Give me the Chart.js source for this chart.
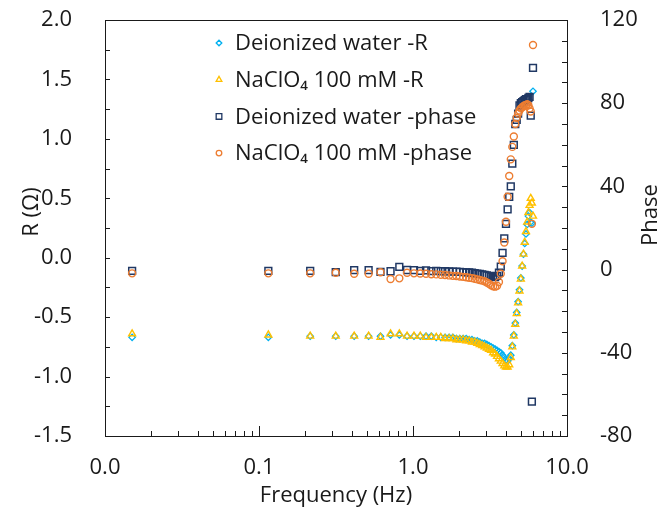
<!DOCTYPE html>
<html>
<head>
<meta charset="utf-8">
<script src="https://cdn.jsdelivr.net/npm/chart.js@4.4.0/dist/chart.umd.min.js"></script>
<style>
  html, body { margin: 0; padding: 0; background: #fff; }
</style>
</head>
<body>
<canvas id="canvas" width="664" height="523"></canvas>
<script>
// frequency (Hz)
var freq = [0.015, 0.115, 0.215, 0.315, 0.415, 0.515, 0.615, 0.715, 0.815, 0.915,
            1.015, 1.115, 1.215, 1.315, 1.415, 1.515, 1.615, 1.715, 1.815, 1.915,
            2.015, 2.115, 2.215, 2.315, 2.415, 2.515, 2.615, 2.715, 2.815, 2.915,
            3.015, 3.115, 3.215, 3.315, 3.415, 3.515, 3.615, 3.715, 3.815, 3.915,
            4.015, 4.115, 4.215, 4.315, 4.415, 4.515, 4.615, 4.715, 4.815, 4.915,
            5.015, 5.115, 5.215, 5.315, 5.415, 5.515, 5.615, 5.715, 5.815, 5.915,
            6.015];

// R (ohm), deionized water
var rWater = [-0.67, -0.67, -0.66, -0.66, -0.66, -0.66, -0.66, -0.65, -0.65, -0.66,
              -0.66, -0.66, -0.66, -0.66, -0.67, -0.67, -0.67, -0.67, -0.67, -0.68,
              -0.68, -0.68, -0.68, -0.69, -0.69, -0.70, -0.70, -0.71, -0.72, -0.72,
              -0.73, -0.74, -0.75, -0.76, -0.77, -0.78, -0.79, -0.80, -0.82, -0.84,
              -0.86, -0.87, -0.85, -0.82, -0.74, -0.65, -0.55, -0.46, -0.37, -0.27,
              -0.17, -0.07, 0.03, 0.12, 0.20, 0.28, 0.35, 0.38, 0.30, 0.29,
              1.40];

// R (ohm), NaClO4 100 mM
var rNaClO4 = [-0.64, -0.65, -0.66, -0.66, -0.66, -0.66, -0.67, -0.64, -0.64, -0.66,
               -0.66, -0.66, -0.67, -0.67, -0.67, -0.67, -0.68, -0.68, -0.68, -0.69,
               -0.69, -0.69, -0.70, -0.70, -0.71, -0.71, -0.72, -0.73, -0.74, -0.75,
               -0.76, -0.77, -0.78, -0.80, -0.81, -0.83, -0.85, -0.87, -0.89, -0.91,
               -0.92, -0.92, -0.90, -0.84, -0.75, -0.66, -0.56, -0.47, -0.38, -0.28,
               -0.18, -0.07, 0.03, 0.13, 0.22, 0.30, 0.38, 0.44, 0.50, 0.46,
               0.35];

// phase, deionized water
var phaseWater = [-0.6, -0.6, -0.6, -1.2, -0.3, -0.3, -1.1, -0.8, 1.3, -0.2,
                  -0.3, -0.6, -0.4, -0.7, -0.6, -0.8, -0.8, -0.9, -1.0, -1.0,
                  -1.1, -1.2, -1.3, -1.4, -1.5, -1.7, -1.9, -2.1, -2.3, -2.5,
                  -2.8, -3.0, -3.3, -3.5, -3.6, -3.0, -1.5, 1.4, 8, 15,
                  22, 29, 35, 40, 51, 60, 70, 72, 75, 79,
                  80, 80.5, 81, 81.5, 82, 82, 82.5, 83, 74, -63.5,
                  97];

// phase, NaClO4 100 mM
var phaseNaClO4 = [-1.8, -1.8, -1.8, -1.5, -2.0, -2.0, -1.3, -4.5, -4.2, -1.5,
                   -1.8, -1.9, -2.0, -2.2, -2.3, -2.5, -2.6, -2.8, -3.0, -3.1,
                   -3.3, -3.5, -3.7, -3.9, -4.1, -4.4, -4.7, -5.0, -5.3, -5.6,
                   -6.2, -6.8, -7.5, -8.0, -8.2, -7.8, -6.0, -2.0, 4, 13,
                   23, 35, 45, 53, 59, 64, 70, 73, 75, 76.5,
                   77.5, 78, 78.5, 79, 79, 79.5, 79, 77.5, 76, 22,
                   108];

var seriesNames = ['Deionized water -R', 'NaClO\u2084 100 mM -R', 'Deionized water -phase', 'NaClO\u2084 100 mM -phase'];
var xTicks = [0.01, 0.1, 1, 10];
var rTicks = [-1.5, -1.0, -0.5, 0.0, 0.5, 1.0, 1.5, 2.0];
var phaseTicks = [-80, -40, 0, 40, 80, 120];

var FONT = '"Open Sans", sans-serif';
var TXT = '#1a1a1a';

function pts(ys) {
    return freq.map(function (f, i) { return { x: f, y: ys[i] }; });
}

function noPad(s) {
    s.paddingTop = 0; s.paddingBottom = 0;
    s.paddingLeft = 0; s.paddingRight = 0;
}

// frame, inward tick marks, y titles, legend
var decorPlugin = {
    id: 'decor',
    afterDraw: function (chart) {
        var ctx = chart.ctx;
        var a = chart.chartArea;
        var sx = chart.scales.x, sy = chart.scales.y, sy1 = chart.scales.y1;
        ctx.save();
        ctx.strokeStyle = TXT;
        ctx.lineWidth = 1;
        ctx.strokeRect(Math.round(a.left) + 0.5, Math.round(a.top) + 0.5,
                       Math.round(a.right - a.left), Math.round(a.bottom - a.top));
        ctx.beginPath();
        var v, p;
        for (v = -1.5; v <= 2.0001; v += 0.25) {
            p = Math.round(sy.getPixelForValue(v)) + 0.5;
            ctx.moveTo(a.left, p); ctx.lineTo(a.left + 5, p);
        }
        for (v = -80; v <= 120; v += 10) {
            p = Math.round(sy1.getPixelForValue(v)) + 0.5;
            ctx.moveTo(a.right, p); ctx.lineTo(a.right - 5, p);
        }
        [0.01, 0.1, 1].forEach(function (d) {
            for (var k = 1; k <= 10; k++) {
                p = Math.round(sx.getPixelForValue(k * d)) + 0.5;
                var len = (k === 1 || k === 10) ? 10 : 5;
                ctx.moveTo(p, a.bottom); ctx.lineTo(p, a.bottom - len);
            }
        });
        ctx.stroke();

        // y titles
        ctx.fillStyle = TXT;
        ctx.font = '22px ' + FONT;
        ctx.textAlign = 'center';
        ctx.textBaseline = 'middle';
        ctx.save();
        ctx.translate(32, 212);
        ctx.rotate(-Math.PI / 2);
        ctx.fillText('R (\u03A9)', 0, 0);
        ctx.restore();
        ctx.save();
        ctx.translate(651, 215);
        ctx.rotate(-Math.PI / 2);
        ctx.fillText('Phase', 0, 0);
        ctx.restore();

        // legend
        ctx.textAlign = 'left';
        chart.data.datasets.forEach(function (ds, i) {
            var y = 43 + i * 36.7;
            ctx.strokeStyle = ds.borderColor;
            ctx.fillStyle = 'rgba(255,255,255,0)';
            ctx.lineWidth = 1.3;
            Chart.helpers.drawPoint(ctx, { pointStyle: ds.pointStyle, radius: ds.legendRadius, borderWidth: 1.3, rotation: 0 }, 219, y);
            ctx.fillStyle = TXT;
            ctx.fillText(ds.label, 235, y + 1);
        });
        ctx.restore();
    }
};

var ctx = document.getElementById('canvas');
var myChart = new Chart(ctx, {
    type: 'scatter',
    data: {
        datasets: [{
            label: seriesNames[0],
            data: pts(rWater),
            yAxisID: 'y',
            pointStyle: 'rectRot',
            pointRadius: 3.2,
            legendRadius: 2.8,
            borderColor: '#00B0F0',
            backgroundColor: 'rgba(255,255,255,0)',
            borderWidth: 1.3,
            order: 4
        }, {
            label: seriesNames[1],
            data: pts(rNaClO4),
            yAxisID: 'y',
            pointStyle: 'triangle',
            pointRadius: 4,
            legendRadius: 3.3,
            borderColor: '#FFC000',
            backgroundColor: 'rgba(255,255,255,0)',
            borderWidth: 1.4,
            order: 3
        }, {
            label: seriesNames[2],
            data: pts(phaseWater),
            yAxisID: 'y1',
            pointStyle: 'rect',
            pointRadius: 4.8,
            legendRadius: 4,
            borderColor: '#203864',
            backgroundColor: 'rgba(255,255,255,0)',
            borderWidth: 1.5,
            order: 2
        }, {
            label: seriesNames[3],
            data: pts(phaseNaClO4),
            yAxisID: 'y1',
            pointStyle: 'circle',
            pointRadius: 3.5,
            legendRadius: 2.8,
            borderColor: '#ED7D31',
            backgroundColor: 'rgba(255,255,255,0)',
            borderWidth: 1.4,
            order: 1
        }]
    },
    options: {
        responsive: false,
        animation: false,
        devicePixelRatio: 1,
        font: { family: FONT },
        layout: { padding: { top: 20, left: 0, right: 0, bottom: 0 } },
        plugins: {
            legend: { display: false },
            tooltip: { enabled: false }
        },
        scales: {
            x: {
                type: 'logarithmic',
                position: 'bottom',
                min: 0.01,
                max: 10,
                grid: { display: false },
                border: { display: false },
                afterBuildTicks: function (s) { s.ticks = xTicks.map(function (v) { return { value: v }; }); },
                afterFit: function (s) { s.height = 87; noPad(s); },
                ticks: {
                    autoSkip: false,
                    maxRotation: 0,
                    padding: 11,
                    color: TXT,
                    font: { family: FONT, size: 22 },
                    callback: function (v) { return Number(v).toFixed(1); }
                },
                title: {
                    display: true,
                    text: 'Frequency (Hz)',
                    color: TXT,
                    font: { family: FONT, size: 22 },
                    padding: { top: 0, bottom: 14 }
                }
            },
            y: {
                position: 'left',
                min: -1.5,
                max: 2.0,
                grid: { display: false },
                border: { display: false },
                afterBuildTicks: function (s) { s.ticks = rTicks.map(function (v) { return { value: v }; }); },
                afterFit: function (s) { s.width = 105; noPad(s); },
                ticks: {
                    padding: 25,
                    color: TXT,
                    font: { family: FONT, size: 22 },
                    callback: function (v) { return Number(v).toFixed(1); }
                }
            },
            y1: {
                position: 'right',
                min: -80,
                max: 120,
                grid: { display: false },
                border: { display: false },
                afterBuildTicks: function (s) { s.ticks = phaseTicks.map(function (v) { return { value: v }; }); },
                afterFit: function (s) { s.width = 97; noPad(s); },
                ticks: {
                    padding: 25,
                    color: TXT,
                    font: { family: FONT, size: 22 },
                    callback: function (v) { return String(v); }
                }
            }
        }
    },
    plugins: [decorPlugin]
});
</script>
</body>
</html>
